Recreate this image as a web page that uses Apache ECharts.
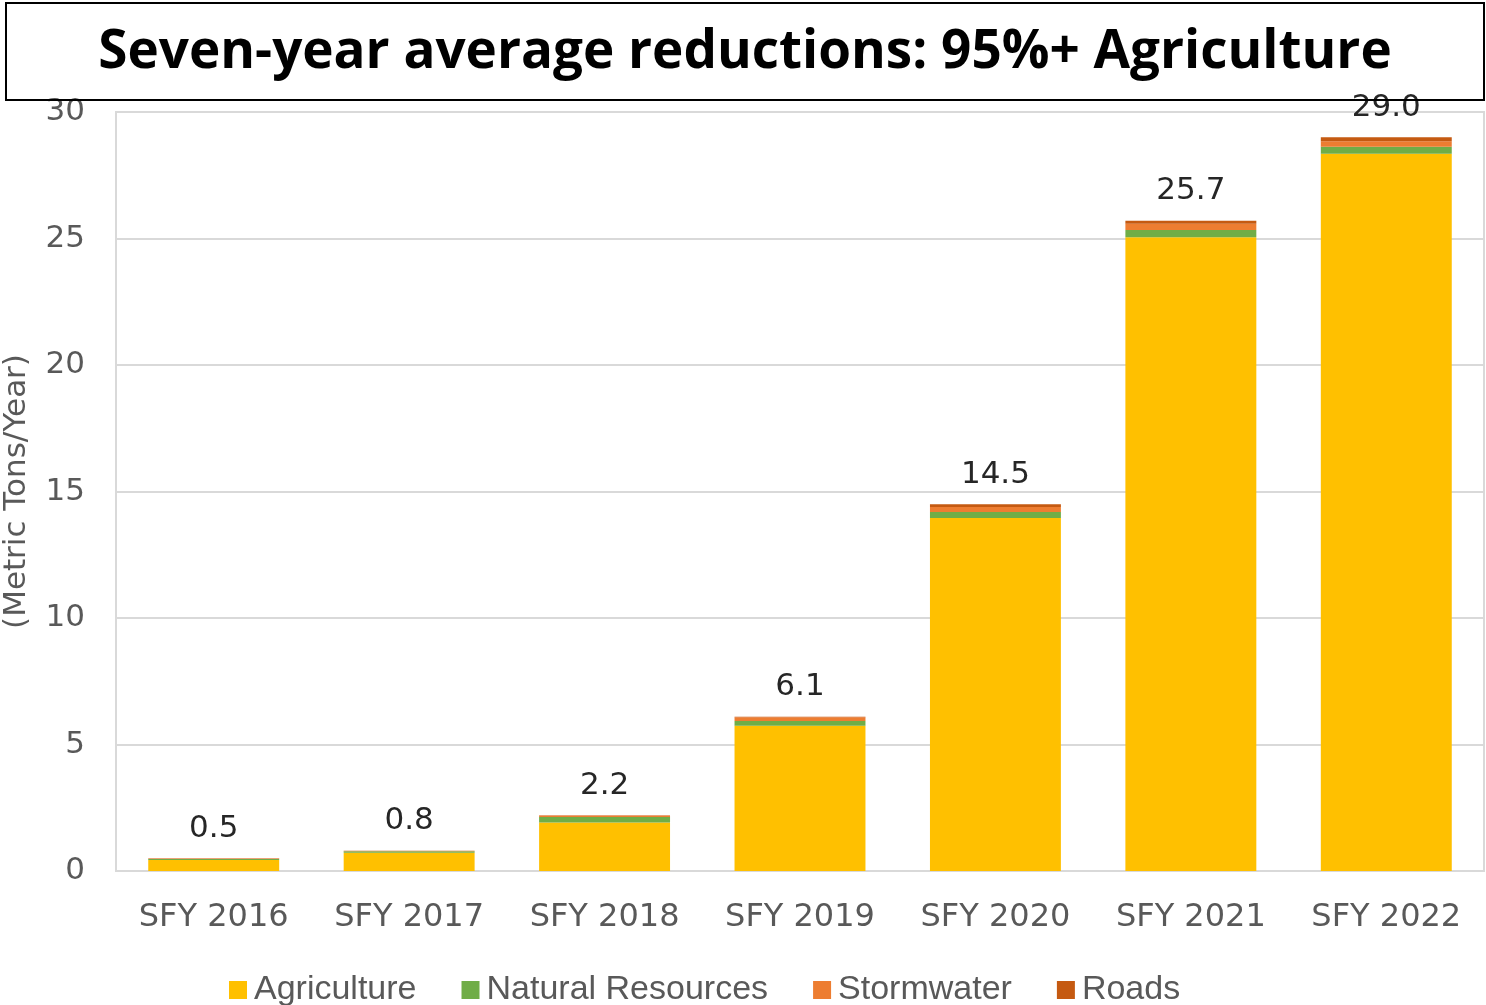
<!DOCTYPE html>
<html>
<head>
<meta charset="utf-8">
<script src="https://cdn.jsdelivr.net/npm/echarts@6/dist/echarts.min.js"></script>
<style>
  html, body { margin: 0; padding: 0; background: #fff; }
  #chart { width: 1486px; height: 1005px; }
</style>
</head>
<body>
<div id="chart"></div>
<script>
// Annual reductions by sector, metric tons per year
const years = ['SFY 2016', 'SFY 2017', 'SFY 2018', 'SFY 2019', 'SFY 2020', 'SFY 2021', 'SFY 2022'];
const agriculture      = [0.43, 0.72, 1.92, 5.74, 13.95, 25.05, 28.35];
const naturalResources = [0.04, 0.06, 0.21, 0.19, 0.24, 0.29, 0.28];
const stormwater       = [0.02, 0.01, 0.06, 0.15, 0.20, 0.24, 0.21];
const roads            = [0.01, 0.01, 0.01, 0.02, 0.11, 0.12, 0.16];
const totals           = [0.5, 0.8, 2.2, 6.1, 14.5, 25.7, 29.0];
const yTicks = { min: 0, max: 30, interval: 5 };

const chart = echarts.init(document.getElementById('chart'));

function sectorSeries(name, data, color, extra) {
  return Object.assign({
    name: name,
    type: 'bar',
    stack: 'total',
    data: data,
    barCategoryGap: '33%',
    itemStyle: { color: color },
    emphasis: { disabled: true }
  }, extra || {});
}

chart.setOption({
  animation: false,
  graphic: [
    {
      type: 'rect',
      shape: { x: 6, y: 3, width: 1478, height: 97 },
      style: { fill: 'none', stroke: '#000', lineWidth: 2 },
      z: 10
    },
    {
      type: 'text',
      x: 745, y: 53,
      style: {
        text: 'Seven-year average reductions: 95%+ Agriculture',
        font: 'bold 53px "Open Sans"',
        fill: '#000',
        textAlign: 'center',
        textVerticalAlign: 'middle'
      },
      z: 10
    }
  ],
  grid: {
    left: 116, right: 2, top: 112, bottom: 134,
    containLabel: false,
    outerBoundsMode: 'none',
    show: true, borderColor: '#d9d9d9', borderWidth: 2
  },
  legend: {
    left: 224, top: 968,
    itemWidth: 18, itemHeight: 18, itemGap: 45,
    icon: 'rect',
    textStyle: { fontFamily: 'Liberation Sans', fontSize: 34, color: '#595959', padding: [0, 0, 0, 2] },
    data: ['Agriculture', 'Natural Resources', 'Stormwater', 'Roads']
  },
  xAxis: {
    type: 'category',
    data: years,
    axisLine: { lineStyle: { color: '#d9d9d9', width: 2 } },
    axisTick: { show: false },
    axisLabel: { fontFamily: 'DejaVu Sans', fontSize: 32, color: '#595959', margin: 31 }
  },
  yAxis: {
    type: 'value',
    min: yTicks.min, max: yTicks.max, interval: yTicks.interval,
    name: '(Metric Tons/Year)',
    nameLocation: 'middle',
    nameGap: 84,
    nameTextStyle: { fontFamily: 'DejaVu Sans', fontSize: 31, color: '#595959' },
    axisLine: { show: false },
    axisTick: { show: false },
    splitLine: { lineStyle: { color: '#d9d9d9', width: 2 } },
    axisLabel: { fontFamily: 'DejaVu Sans', fontSize: 31, color: '#595959', margin: 31 }
  },
  series: [
    sectorSeries('Agriculture', agriculture, '#FFC000'),
    sectorSeries('Natural Resources', naturalResources, '#70AD47'),
    sectorSeries('Stormwater', stormwater, '#ED7D31'),
    sectorSeries('Roads', roads, '#C55A11', {
      label: {
        show: true,
        position: 'top',
        distance: 14,
        fontFamily: 'DejaVu Sans',
        fontSize: 31,
        color: '#262626',
        formatter: function (p) { return totals[p.dataIndex].toFixed(1); }
      }
    })
  ]
});
</script>
</body>
</html>
